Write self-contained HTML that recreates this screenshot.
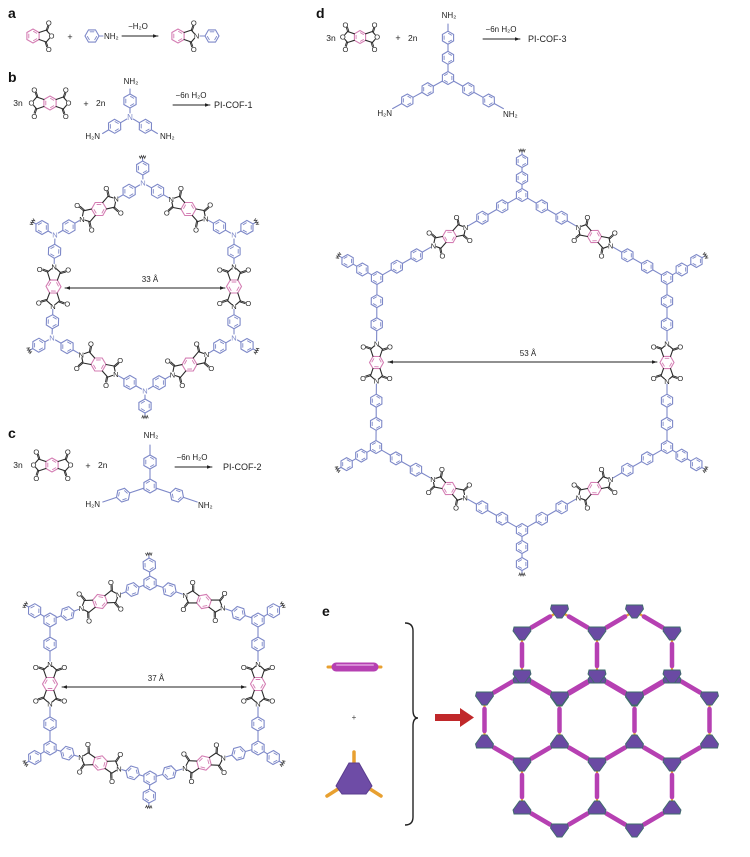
<!DOCTYPE html>
<html><head><meta charset="utf-8">
<style>
html,body{margin:0;padding:0;background:#fff;}
svg{display:block;font-family:"Liberation Sans",Arial,sans-serif;}
</style></head>
<body>
<svg id="s" width="750" height="857" viewBox="0 0 750 857" xmlns="http://www.w3.org/2000/svg"></svg>
<script>
let o='';
const BL='#7d88c8',PK='#d47db3',BK='#2a2a2a',W=1.1,PI=Math.PI;
function f(v){return v.toFixed(1);}
function L(x1,y1,x2,y2,c,w){o+=`<line x1="${f(x1)}" y1="${f(y1)}" x2="${f(x2)}" y2="${f(y2)}" stroke="${c}" stroke-width="${w||W}" stroke-linecap="round"/>`;}
function T(x,y,t,s,c,a,b){o+=`<text x="${x}" y="${y}" font-size="${s}" fill="${c||'#222'}" text-anchor="${a||'middle'}"${b?' font-weight="bold"':''}>${t}</text>`;}
function ring(cx,cy,r,th,c){
  let p=[];for(let k=0;k<6;k++){let a=th+k*PI/3;p.push([cx+r*Math.cos(a),cy+r*Math.sin(a)]);}
  o+=`<polygon points="${p.map(q=>f(q[0])+','+f(q[1])).join(' ')}" fill="none" stroke="${c}" stroke-width="${W}"/>`;
  for(let k=0;k<6;k+=2){let a=p[k],b=p[(k+1)%6],F=0.7;
    let a2=[cx+(a[0]-cx)*F,cy+(a[1]-cy)*F],b2=[cx+(b[0]-cx)*F,cy+(b[1]-cy)*F],m=0.12;
    L(a2[0]+(b2[0]-a2[0])*m,a2[1]+(b2[1]-a2[1])*m,b2[0]-(b2[0]-a2[0])*m,b2[1]-(b2[1]-a2[1])*m,c,0.9);}
}
function link(ax,ay,ar,bx,by,br,n,r,c){
  let dx=bx-ax,dy=by-ay,D=Math.hypot(dx,dy),ux=dx/D,uy=dy/D,th=Math.atan2(dy,dx);
  let g=(D-ar-br-2*r*n)/(n+1),s=ar;
  for(let i=0;i<n;i++){L(ax+ux*s,ay+uy*s,ax+ux*(s+g),ay+uy*(s+g),c);s+=g;ring(ax+ux*(s+r),ay+uy*(s+r),r,th,c);s+=2*r;}
  L(ax+ux*s,ay+uy*s,ax+ux*(s+g),ay+uy*(s+g),c);
}
function squig(x,y,ux,uy){
  let vx=-uy,vy=ux,pts=[];
  for(let i=-3;i<=3;i++){let a=(i%2?1.3:-1.3);pts.push(f(x+vx*i*1.1+ux*a)+','+f(y+vy*i*1.1+uy*a));}
  o+=`<polyline points="${pts.join(' ')}" fill="none" stroke="#444" stroke-width="0.8"/>`;
}
function imide(cx,cy,th,r,sides,labs,rc){
  ring(cx,cy,r,th+PI/6,rc);
  let ux=Math.cos(th),uy=Math.sin(th),vx=-uy,vy=ux;
  let P=(a,b)=>[cx+ux*a+vx*b,cy+uy*a+vy*b];
  sides.forEach((s,i)=>{
    let e1=P(s*0.866*r,r/2),e2=P(s*0.866*r,-r/2);
    let c1=P(s*1.9*r,0.85*r),c2=P(s*1.9*r,-0.85*r),X=P(s*2.65*r,0);
    L(e1[0],e1[1],c1[0],c1[1],BK);L(e2[0],e2[1],c2[0],c2[1],BK);
    [c1,c2].forEach(c=>{let dx=X[0]-c[0],dy=X[1]-c[1],d=Math.hypot(dx,dy),k=(d-3.2)/d;L(c[0],c[1],c[0]+dx*k,c[1]+dy*k,BK);});
    T(f(X[0]),f(X[1]+2.7),labs[i],7.5,BK);
    [[c1,1],[c2,-1]].forEach(([c,sg])=>{
      let O=P(s*2.25*r,sg*1.9*r),dx=O[0]-c[0],dy=O[1]-c[1],d=Math.hypot(dx,dy),k=(d-3)/d,px=-dy/d*1.2,py=dx/d*1.2;
      L(c[0],c[1],c[0]+dx*k,c[1]+dy*k,BK,0.9);L(c[0]+px,c[1]+py,c[0]+dx*k+px,c[1]+dy*k+py,BK,0.9);
      T(f(O[0]),f(O[1]+2.7),'O',7.5,BK);
    });
  });
}
function arrow(x1,y,x2,both){
  L(x1,y,x2,y,'#222',0.9);
  o+=`<polygon points="${x2},${y} ${x2-5},${y-1.8} ${x2-5},${y+1.8}" fill="#222"/>`;
  if(both)o+=`<polygon points="${x1},${y} ${x1+5},${y-1.8} ${x1+5},${y+1.8}" fill="#222"/>`;
}
function lattice(nodes,isN,r,pr,nC,nO,cx,cy){
  const nr=isN?4:r;
  for(let i=0;i<6;i++){
    let A=nodes[i],B=nodes[(i+1)%6],mx=(A[0]+B[0])/2,my=(A[1]+B[1])/2,th=Math.atan2(B[1]-A[1],B[0]-A[0]);
    imide(mx,my,th,pr,[-1,1],['N','N'],PK);
    link(A[0],A[1],nr,mx,my,2.65*pr+3,nC,r,BL);
    link(B[0],B[1],nr,mx,my,2.65*pr+3,nC,r,BL);
  }
  nodes.forEach(n=>{
    if(isN)T(n[0],n[1]+2.7,'N',7.5,BL);else ring(n[0],n[1],r,PI/2,BL);
    let dx=n[0]-cx,dy=n[1]-cy,d=Math.hypot(dx,dy),ux=dx/d,uy=dy/d,g=4,len=nr+nO*(2*r+g)+g;
    let ex=n[0]+ux*len,ey=n[1]+uy*len;
    link(n[0],n[1],nr,ex,ey,0,nO,r,BL);squig(ex,ey,ux,uy);
  });
}
/* ---- a ---- */
T(8,18,'a',14,'#111','start',1);
imide(33,36,0,7,[1],['O'],PK);
T(70,40,'+',9);
ring(92,36,7,0,BL);L(99,36,103,36,BL);T(104,39,'NH₂',8,'#222','start');
arrow(122,36,158);T(138,29,'−H₂O',8);
imide(178,36,0,7,[1],['N'],PK);L(200,36,205,36,BL);ring(212,36,7,0,BL);
/* ---- b ---- */
T(8,82,'b',14,'#111','start',1);
T(18,106,'3n',8.5);
imide(50,103,0,7,[-1,1],['O','O'],PK);
T(86,107,'+',9);T(96,106,'2n',8.5,'#222','start');
T(130,120,'N',8,BL);
link(130,117,4,130,86,3,1,7,BL);T(131,84,'NH₂',8);
link(130,117,4,100,135,3,1,7,BL);T(100,139,'H₂N',8,'#222','end');
link(130,117,4,160,135,3,1,7,BL);T(160,139,'NH₂',8,'#222','start');
arrow(173,105,210);T(191,98,'−6n H₂O',8);T(214,108,'PI-COF-1',9,'#222','start');
lattice([[143,183],[234,235],[234,338],[145,391],[52,338],[55,235]],true,7,7.5,1,1,145,287);
arrow(65,288,225,true);T(150,282,'33 Å',8);
/* ---- c ---- */
T(8,438,'c',14,'#111','start',1);
T(18,468,'3n',8.5);
imide(52,465,0,7,[-1,1],['O','O'],PK);
T(88,469,'+',9);T(98,468,'2n',8.5,'#222','start');
ring(150,486,7,PI/2,BL);
link(150,486,7,150,442,3,1,7,BL);T(151,438,'NH₂',8);
link(150,486,7,100,503,3,1,7,BL);T(100,507,'H₂N',8,'#222','end');
link(150,486,7,200,503,3,1,7,BL);T(198,508,'NH₂',8,'#222','start');
arrow(175,467,212);T(192,460,'−6n H₂O',8);T(223,470,'PI-COF-2',9,'#222','start');
lattice([[150,583],[258,620],[258,748],[150,778],[50,748],[50,620]],false,7,7.5,1,1,154,683);
arrow(62,687,246,true);T(156,681,'37 Å',8);
/* ---- d ---- */
T(316,18,'d',14,'#111','start',1);
T(331,41,'3n',8.5);
imide(360,37,0,6.5,[-1,1],['O','O'],PK);
T(398,41,'+',9);T(408,41,'2n',8.5,'#222','start');
ring(448,78,6.5,PI/2,BL);
link(448,78,6.5,448,21,3,2,6.5,BL);T(449,18,'NH₂',8);
link(448,78,6.5,390,110,3,2,6.5,BL);T(392,116,'H₂N',8,'#222','end');
link(448,78,6.5,506,110,3,2,6.5,BL);T(503,117,'NH₂',8,'#222','start');
arrow(483,39,520);T(501,32,'−6n H₂O',8);T(528,42,'PI-COF-3',9,'#222','start');
lattice([[522,195],[667,278],[667,447],[522,530],[376,447],[377,278]],false,6.5,7,2,2,522,362);
arrow(388,362,657,true);T(528,356,'53 Å',8);
/* ---- e ---- */
T(322,616,'e',14,'#111','start',1);
L(328,667,381,667,'#e8a030',3);
o+=`<line x1="336" y1="667" x2="374" y2="667" stroke="#b640b2" stroke-width="9" stroke-linecap="round"/><line x1="337" y1="665" x2="373" y2="665" stroke="#d78ad5" stroke-width="2" stroke-linecap="round"/>`;
T(354,720,'+',8,'#444');
L(354,765,354,752,'#e8a030',3.5);L(338,789,327,796,'#e8a030',3.5);L(370,789,381,796,'#e8a030',3.5);
o+=`<polygon points="349,763 359,763 372,786 366,794 342,794 336,786" fill="#6e4ca6" stroke="#5a3d8e" stroke-width="1"/>`;
o+=`<path d="M405,623 q8,0 8,8 L413,710 q0,8 5,8 q-5,0 -5,8 L413,817 q0,8 -8,8" fill="none" stroke="#222" stroke-width="1.4"/>`;
o+=`<rect x="435" y="714" width="27" height="7" fill="#c0282a"/><polygon points="460,708 474,717.5 460,727" fill="#c0282a"/>`;
/* honeycomb */
const cells=[[559.5,655],[634.5,655],[522,720],[597,720],[672,720],[559.5,786],[634.5,786]];
const V={},E={};
const key=p=>Math.round(p[0])+'_'+Math.round(p[1]);
cells.forEach(([cx,cy])=>{
  let vs=[[cx,cy-44],[cx+37.5,cy-22],[cx+37.5,cy+22],[cx,cy+44],[cx-37.5,cy+22],[cx-37.5,cy-22]];
  vs.forEach(v=>V[key(v)]=v);
  for(let i=0;i<6;i++){let a=vs[i],b=vs[(i+1)%6],k=[key(a),key(b)].sort().join('|');E[k]=[a,b];}
});
Object.values(E).forEach(([a,b])=>{
  L(a[0],a[1],b[0],b[1],'#e8a030',2.2);
  let t1=0.25,t2=0.75,x1=a[0]+(b[0]-a[0])*t1,y1=a[1]+(b[1]-a[1])*t1,x2=a[0]+(b[0]-a[0])*t2,y2=a[1]+(b[1]-a[1])*t2;
  o+=`<line x1="${f(x1)}" y1="${f(y1)}" x2="${f(x2)}" y2="${f(y2)}" stroke="#b640b2" stroke-width="4.5" stroke-linecap="round"/>`;
});
Object.values(V).forEach(v=>{
  let dir=1;
  Object.values(E).forEach(([a,b])=>{
    let o2=null;if(key(a)==key(v))o2=b;else if(key(b)==key(v))o2=a;
    if(o2&&Math.abs(o2[0]-v[0])<1){dir=o2[1]>v[1]?1:-1;}
  });
  let pts=[[-8,-6],[8,-6],[9,-2],[2.5,7],[-2.5,7],[-9,-2]].map(p=>f(v[0]+p[0])+','+f(v[1]+p[1]*dir)).join(' ');
  o+=`<polygon points="${pts}" fill="#6a4aa3" stroke="#3f6b6b" stroke-width="0.9"/>`;
});
document.getElementById('s').innerHTML=o;
</script>
</body></html>
